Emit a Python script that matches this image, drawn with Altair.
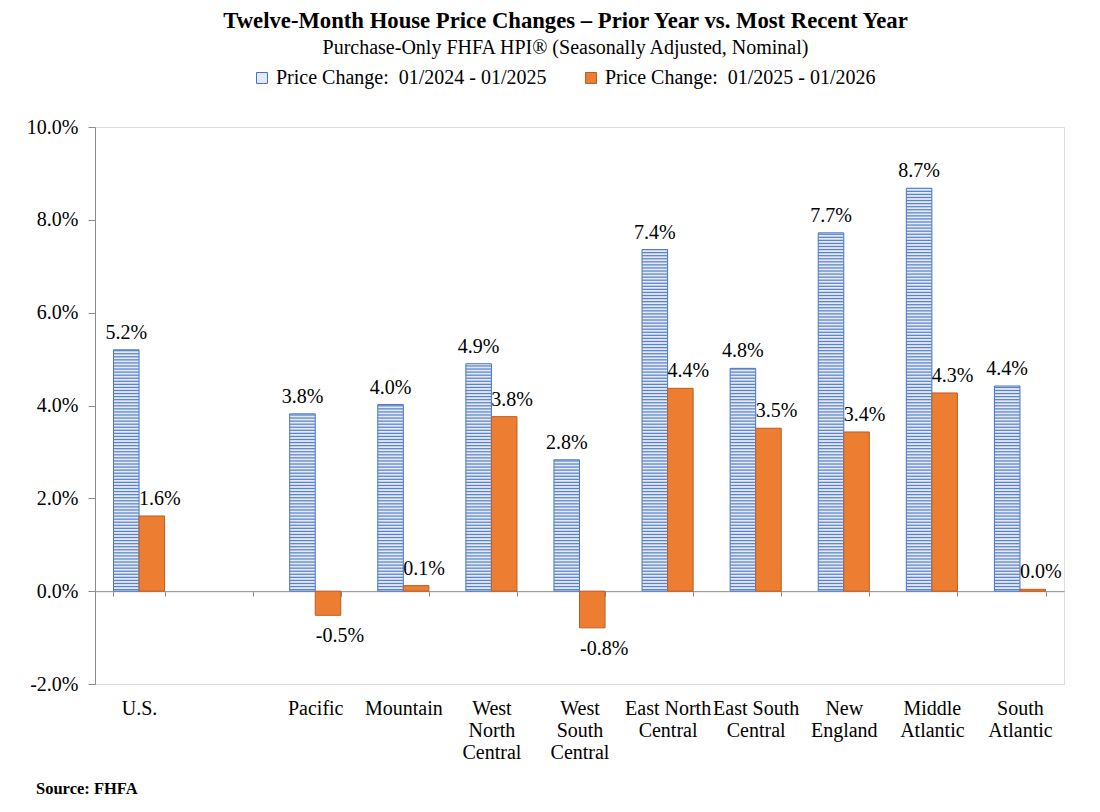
import altair as alt
import pandas as pd
import numpy as np

# ---------------- data ----------------
regions = ["U.S.", " ", "Pacific", "Mountain", "West\nNorth\nCentral", "West\nSouth\nCentral",
           "East North\nCentral", "East South\nCentral", "New\nEngland", "Middle\nAtlantic",
           "South\nAtlantic"]
prior_year = [5.2, None, 3.82, 4.02, 4.9, 2.83, 7.36, 4.8, 7.72, 8.68, 4.42]
recent_year = [1.62, None, -0.52, 0.12, 3.76, -0.79, 4.37, 3.51, 3.43, 4.27, 0.04]
SERIES = ["Price Change:\u00a0 01/2024 - 01/2025", "Price Change:\u00a0 01/2025 - 01/2026"]

rows = []
for r, a, b in zip(regions, prior_year, recent_year):
    if a is None:
        continue
    rows.append({"region": r, "series": SERIES[0], "value": a, "label": f"{a:.1f}%"})
    rows.append({"region": r, "series": SERIES[1], "value": b, "label": f"{b:.1f}%"})
df = pd.DataFrame(rows)

# decorative horizontal stripe pattern for the prior-year bars (derived from the values)
PERIOD, THICK = 0.066, 0.027
stripes = []
for r, a in zip(regions, prior_year):
    if a is None:
        continue
    for s in np.arange(0.02, a, PERIOD):
        stripes.append({"region": r, "series": SERIES[0], "y0": float(s), "y1": float(min(s + THICK, a))})
sdf = pd.DataFrame(stripes)

# ---------------- layout ----------------
W, H = 969, 557
YMIN, YMAX = -2, 10
ZERO_OFFSET = -H * (0 - YMIN) / (YMAX - YMIN)
FONT = "Liberation Serif"
FS = 20
AXIS_GREY = "#8c8c8c"

x_enc = alt.X("region:N",
              scale=alt.Scale(domain=regions, paddingInner=0.42, paddingOuter=0.21),
              axis=alt.Axis(title=None, labelAngle=0, offset=ZERO_OFFSET, tickBand="extent",
                            tickSize=5, tickColor=AXIS_GREY, domainColor=AXIS_GREY,
                            labelPadding=102, labelExpr="split(datum.label, '\\n')",
                            labelFont=FONT, labelFontSize=FS, labelLineHeight=22,
                            labelColor="black"))
xo_enc = alt.XOffset("series:N", scale=alt.Scale(domain=SERIES))
y_scale = alt.Scale(domain=[YMIN, YMAX], nice=False, zero=False)
y_axis = alt.Axis(title=None, values=[-2, 0, 2, 4, 6, 8, 10], grid=False,
                  labelExpr="replace(format(datum.value, '.1f'), '\u2212', '-') + '%'", tickSize=7,
                  tickColor=AXIS_GREY, domainColor=AXIS_GREY, labelPadding=10,
                  labelFont=FONT, labelFontSize=FS, labelColor="black")

legend = alt.Legend(title=None, orient="none", legendX=157, legendY=-59,
                    direction="horizontal", symbolType="square", symbolSize=120,
                    labelFont=FONT, labelFontSize=FS, labelColor="black", labelLimit=500,
                    columnPadding=34, labelOffset=4, symbolStrokeWidth=1)

bars = alt.Chart(df).mark_bar(strokeWidth=1).encode(
    x=x_enc, xOffset=xo_enc,
    y=alt.Y("value:Q", scale=y_scale, axis=y_axis),
    fill=alt.Fill("series:N", scale=alt.Scale(domain=SERIES, range=["#e4eaf7", "#ED7D31"]), legend=legend),
    stroke=alt.Stroke("series:N", scale=alt.Scale(domain=SERIES, range=["#4472C4", "#b85e22"]), legend=legend),
)

stripe_layer = alt.Chart(sdf).mark_bar(color="#5a82cc", strokeWidth=0).encode(
    x=x_enc, xOffset=xo_enc,
    y=alt.Y("y0:Q", scale=y_scale, axis=y_axis), y2="y1:Q",
)

txt = dict(font=FONT, fontSize=FS, color="black")
lab_blue = alt.Chart(df).transform_filter(alt.datum.series == SERIES[0]).mark_text(
    baseline="bottom", dy=-7, **txt).encode(
    x=x_enc, xOffset=xo_enc, y=alt.Y("value:Q", scale=y_scale, axis=y_axis), text="label:N")
lab_or_pos = alt.Chart(df).transform_filter(
    (alt.datum.series == SERIES[1]) & (alt.datum.value >= 0)).mark_text(
    baseline="bottom", dy=-7, dx=8, **txt).encode(
    x=x_enc, xOffset=xo_enc, y=alt.Y("value:Q", scale=y_scale, axis=y_axis), text="label:N")
lab_or_neg = alt.Chart(df).transform_filter(
    (alt.datum.series == SERIES[1]) & (alt.datum.value < 0)).mark_text(
    baseline="top", dy=11, dx=12, **txt).encode(
    x=x_enc, xOffset=xo_enc, y=alt.Y("value:Q", scale=y_scale, axis=y_axis), text="label:N")

source = alt.Chart(pd.DataFrame({"t": ["Source: FHFA"]})).mark_text(
    align="left", baseline="middle", font=FONT, fontSize=16.5, fontWeight="bold", color="black").encode(
    x=alt.value(-59), y=alt.value(662), text="t:N")

chart = alt.layer(bars, stripe_layer, lab_blue, lab_or_pos, lab_or_neg, source).properties(
    width=W, height=H,
    autosize=alt.AutoSizeParams(type="none"),
    padding={"left": 87, "top": 119, "right": 20, "bottom": 120},
    title=alt.TitleParams(
        text="Twelve-Month House Price Changes \u2013 Prior Year vs. Most Recent Year",
        subtitle="Purchase-Only FHFA HPI\u00ae (Seasonally Adjusted, Nominal)",
        font=FONT, fontSize=22.7, fontWeight="bold", color="black",
        subtitleFont=FONT, subtitleFontSize=20, subtitleColor="black",
        anchor="middle", offset=10, dx=-14, subtitlePadding=5),
).configure_view(stroke=None).configure(background="white")

chart.save("out.html", embed_options={"renderer": "svg", "actions": False})
